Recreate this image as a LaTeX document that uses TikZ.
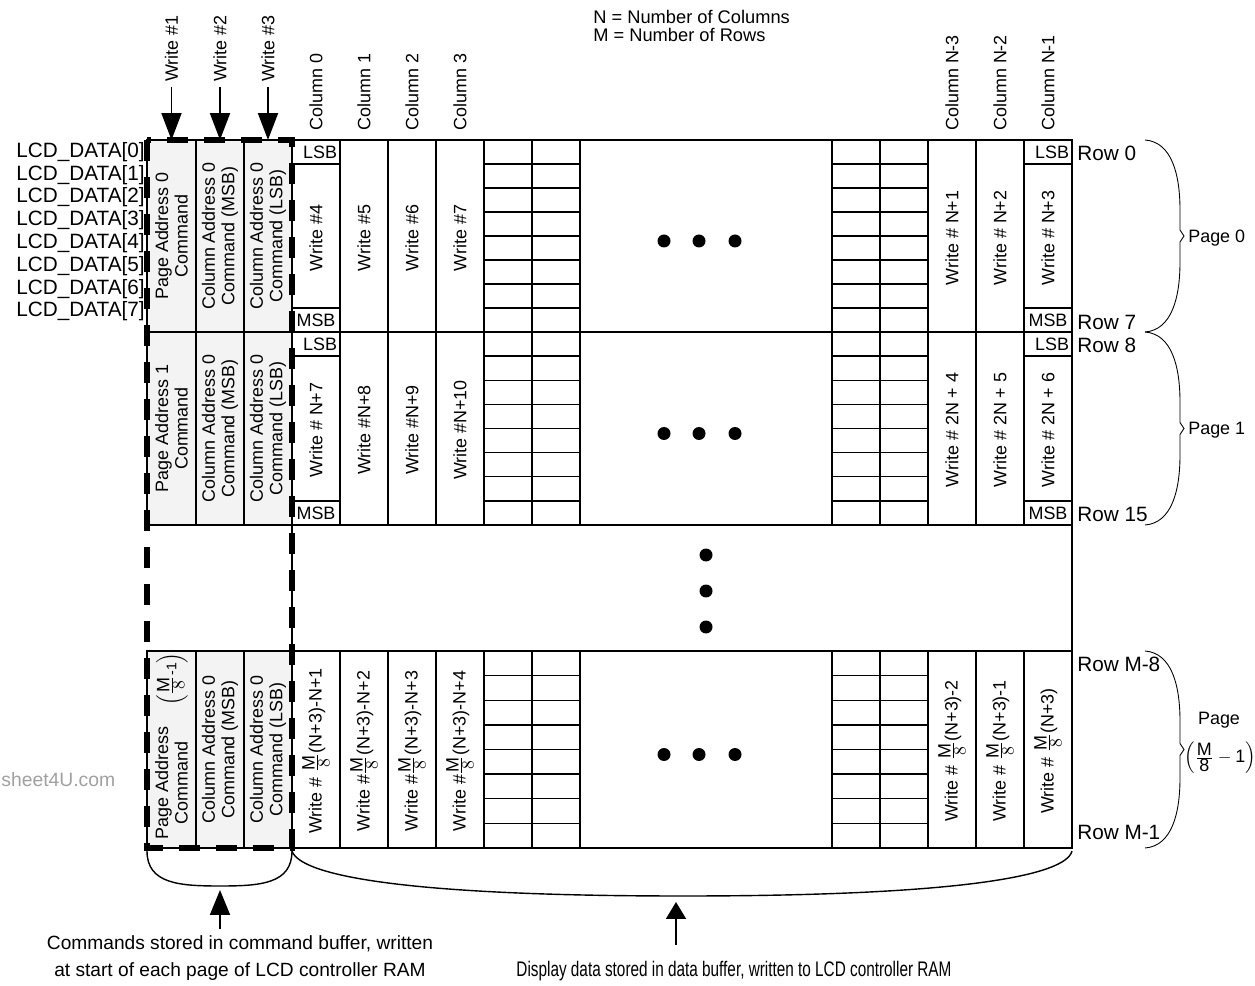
\documentclass[tikz,border=0pt]{standalone}
\usepackage{amsmath}
\usepackage{fontspec}
\setmainfont{Liberation Sans}
\usepackage{tikz}
\usetikzlibrary{arrows.meta}
\definecolor{cmdgray}{HTML}{F3F3F3}
\definecolor{marktext}{HTML}{A0A0A0}
\newcommand{\mfrac}{$\frac{\textstyle\mathrm{M}}{\textstyle 8}$}

\begin{document}
\begin{tikzpicture}[
  x=0.02cm, y=-0.02cm,
  font=\fontsize{10.2}{11}\selectfont,
  bigfont/.style={font=\fontsize{11.8}{13}\selectfont},
  cellline/.style={draw, line width=0.75pt},
  cmdcell/.style={draw, fill=cmdgray, line width=0.75pt},
  cmdbox/.style={line width=0.13cm, dash pattern=on 0.42cm off 0.32cm},
  databox/.style={line width=1.2pt, dash pattern=on 0.4cm off 0.34cm},
  vlabel/.style={rotate=90, align=center, inner sep=0pt},
  arr/.style={-{Triangle[length=5.4mm,width=4mm]}, line width=1.1pt},
  brace/.style={line width=0.5pt}
]
\useasboundingbox (0,0) rectangle (1255,986);

\foreach \t/\b in {140/332,332/525,651/848}{
  \foreach \a/\c in {147/196,196/244,244/292}
    \draw[cmdcell] (\a,\t) rectangle (\c,\b);
  \foreach \a/\c in {292/340,340/388,388/436,436/484,580/832,928/976,976/1024,1024/1072}
    \draw[cellline] (\a,\t) rectangle (\c,\b);
  \foreach \a/\c in {484/532,532/580,832/880,880/928}
    \foreach \r in {0,...,7}
      \draw[cellline] (\a,{\t+\r*(\b-\t)/8}) rectangle (\c,{\t+(\r+1)*(\b-\t)/8});
  \foreach \x in {664,699,735}
    \fill (\x,{(\t+\b)/2+5}) circle (0.13cm);
}
\foreach \t/\b in {140/332,332/525}
  \foreach \a/\c in {292/340,1024/1072}{
    \draw[cellline] (\a,{\t+(\b-\t)/8}) -- (\c,{\t+(\b-\t)/8});
    \draw[cellline] (\a,{\b-(\b-\t)/8}) -- (\c,{\b-(\b-\t)/8});
    \node[anchor=east, inner sep=1.5pt] (lsb\t-\a) at (\c,{\t+(\b-\t)/16}) {LSB};
    \node[inner sep=0pt] (msb\t-\a) at ({(\a+\c)/2},{\b-(\b-\t)/16}) {MSB};
  }
\draw[cellline] (292,525) rectangle (1072,651);
\foreach \y in {555,591,627}
  \fill (706,\y) circle (0.13cm);
\draw[databox] (292,140) rectangle (1072,848);
\draw[cmdbox] (147,140) rectangle (292,848);

\foreach \t/\b/\p in {140/332/0,332/525/1}
  \node[vlabel] (pa\p) at (171.5,{(\t+\b)/2}) {Page Address \p\\Command};
\node[vlabel] (pa2) at (171.5,783) {Page Address\\Command};
\node[vlabel] (pafrac) at (172,679) {$\left(\frac{\textstyle\mathrm{M}}{\textstyle 8}\text{\footnotesize-1}\right)$};
\foreach \t/\b/\p in {140/332/0,332/525/1,651/848/2}{
  \node[vlabel] (cm\p) at (220,{(\t+\b)/2}) {Column Address 0\\Command (MSB)};
  \node[vlabel] (cl\p) at (268,{(\t+\b)/2}) {Column Address 0\\Command (LSB)};
}

\foreach \x/\s in {316/Write \#4,364/Write \#5,412/Write \#6,460/Write \#7,952/Write \# N+1,1000/Write \# N+2,1048/Write \# N+3}
  \node[vlabel] (wa\x) at (\x,238) {\s};
\foreach \x/\s in {316/Write \# N+7,364/Write \#N+8,412/Write \#N+9,460/Write \#N+10,952/Write \# 2N + 4,1000/Write \# 2N + 5,1048/Write \# 2N + 6}
  \node[vlabel] (wb\x) at (\x,430) {\s};
\foreach \x/\s in {316/Write \# \mfrac(N+3)-N+1,364/Write \#\mfrac(N+3)-N+2,412/Write \#\mfrac(N+3)-N+3,460/Write \#\mfrac(N+3)-N+4,952/Write \# \mfrac(N+3)-2,1000/Write \# \mfrac(N+3)-1,1048/Write \# \mfrac(N+3)}
  \node[vlabel] (wc\x) at (\x,751) {\s};

\foreach \x/\s in {316/0,364/1,412/2,460/3,952/N-3,1000/N-2,1048/N-1}
  \node[vlabel, anchor=west] (col\s) at (\x,131) {Column \s};
\foreach \i/\x in {1/171.5,2/220,3/268}{
  \node[vlabel, anchor=west] (write\i) at (\x,82) {Write \#\i};
  \coordinate (cmd\i) at (\x,140);
  \draw[arr, shorten <=0.1cm] (write\i) -- (cmd\i);
}
\foreach \i in {0,...,7}
  \node[bigfont, anchor=east, inner sep=0pt] (lcd\i) at (145,{152+\i*22.8}) {LCD\_DATA[\i]};
\node[anchor=west, align=left, inner sep=0pt, font=\fontsize{10.4}{10.3}\selectfont] (legend) at (593,26) {N = Number of Columns\\M = Number of Rows};

\foreach \y/\s in {153/0,322/7,345/8,514/15,664/M-8,832/M-1}
  \node[bigfont, anchor=west, inner sep=0pt] (row\s) at (1077,\y) {Row \s};
\foreach \t/\b in {140/332,332/525,651/848}
  \draw[brace] (1145,\t) .. controls (1172,\t+2) and (1180,\t+35) .. (1180,\t+70) -- (1180,{(\t+\b)/2-6}) -- (1184,{(\t+\b)/2}) -- (1180,{(\t+\b)/2+6}) -- (1180,\b-70) .. controls (1180,\b-35) and (1172,\b-2) .. (1145,\b);
\node[anchor=west, inner sep=0pt] (page0) at (1188,238) {Page 0};
\node[anchor=west, inner sep=0pt] (page1) at (1188,430) {Page 1};
\node[inner sep=0pt] (pagelast) at (1219,720) {Page};
\node[inner sep=0pt] (pagefrac) at (1220,758) {$\left(\frac{\textstyle\text{M}}{\textstyle\text{8}}-\text{1}\right)$};

\node[anchor=west, inner sep=0pt, text=marktext, font=\fontsize{11}{12}\selectfont] (mark) at (1,780) {sheet4U.com};

\draw[brace, line width=0.8pt] (147,851) .. controls (147,884) and (180,886) .. (220,886) .. controls (260,886) and (292,884) .. (292,851);
\draw[brace, line width=0.8pt] (292,851) .. controls (300,875) and (400,896) .. (683,896) .. controls (966,896) and (1066,875) .. (1072,851);
\coordinate (cmdtip) at (220,890);
\coordinate (datatip) at (676,902);
\node[align=center, font=\fontsize{10.9}{15.4}\selectfont] (cmdnote) at (240,958) {Commands stored in command buffer, written\\at start of each page of LCD controller RAM};
\node[font=\fontsize{12}{13}\selectfont] (datanote) at (734,971) {\scalebox{0.727}[1]{Display data stored in data buffer, written to LCD controller RAM}};
\draw[arr, -{Triangle[length=5mm,width=4mm]}] (cmdnote.north -| cmdtip) -- (cmdtip);
\draw[arr, -{Triangle[length=3.4mm,width=4mm]}, shorten <=0.2cm] (datanote.north -| datatip) -- (datatip);
\end{tikzpicture}
\end{document}
